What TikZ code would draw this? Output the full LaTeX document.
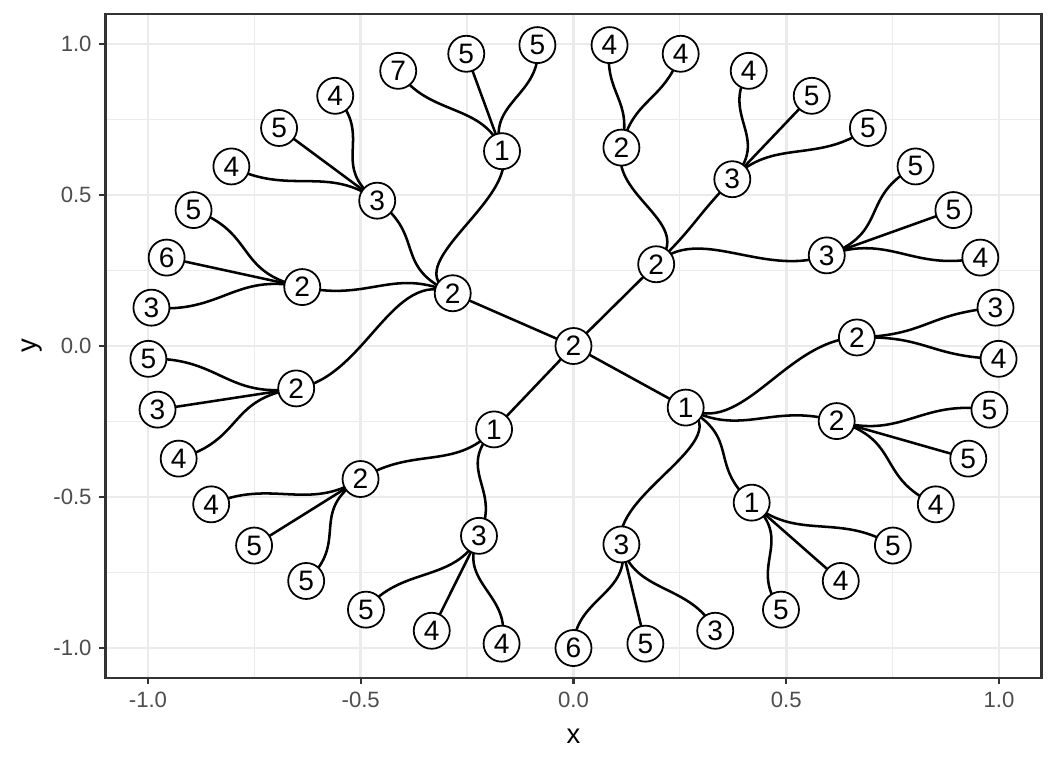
\documentclass[tikz,border=0pt]{standalone}
\usepackage{fontspec}
\setmainfont{Liberation Sans}
\usepackage{tikz}
\pgfdeclarelayer{grid}
\pgfdeclarelayer{edges}
\pgfsetlayers{grid,edges,main}
\definecolor{gridgray}{HTML}{EBEBEB}
\definecolor{framegray}{HTML}{333333}
\definecolor{ticktext}{HTML}{4D4D4D}

\begin{document}
\begin{tikzpicture}[x=4.255cm,y=3.02cm,
    vert/.style={circle,draw=black,fill=white,line width=0.5pt,minimum size=0.36cm,inner sep=0pt,font=\fontsize{8}{8}\selectfont},
    edge/.style={line width=0.72pt},
    ticklab/.style={text=ticktext,inner sep=0pt,font=\fontsize{6.3}{6.3}\selectfont}]
    \def\dang{9.72973} % angle between two leaves, 360/37
    \useasboundingbox (-1.3478,-1.3974) rectangle (1.1340,1.1457);

    % Background and grid
    \begin{pgfonlayer}{grid}
    \fill[white] (-1.3478,-1.3974) rectangle (1.1340,1.1457);
    \foreach \v in {-0.75,-0.25,0.25,0.75}{
    \draw[gridgray,line width=0.36pt] (\v,-1.1) -- (\v,1.1);
    \draw[gridgray,line width=0.36pt] (-1.1,\v) -- (1.1,\v);
    }
    \foreach \v in {-1,-0.5,0,0.5,1}{
    \draw[gridgray,line width=0.72pt] (\v,-1.1) -- (\v,1.1);
    \draw[gridgray,line width=0.72pt] (-1.1,\v) -- (1.1,\v);
    }
    \end{pgfonlayer}

    % Root and first ring (r = 1/3)
    \node[vert] (root) at (0,0) {2};
    \foreach \n/\k/\lab in {a/24.5/2,b/14.833/2,c/5.375/1,d/33.5/1}{
    \node[vert] (\n) at ({-90+\k*\dang}:{1/3}) {\lab};
    \begin{pgfonlayer}{edges}
    \draw[edge] (root.center) -- (\n.center);
    \end{pgfonlayer}
    }

    % Second ring (r = 2/3)
    \foreach \n/\k/\p/\pk/\lab in {c1/1/c/5.375/3,c2/4/c/5.375/1,c3/7/c/5.375/2,c4/9.5/c/5.375/2,
        b1/12/b/14.833/3,b2/15/b/14.833/3,b3/17.5/b/14.833/2,
        a1/20/a/24.5/1,a2/23/a/24.5/3,a3/26/a/24.5/2,a4/29/a/24.5/2,
        d1/32/d/33.5/2,d2/35/d/33.5/3}{
    \node[vert] (\n) at ({-90+\k*\dang}:{2/3}) {\lab};
    \begin{pgfonlayer}{edges}
    \draw[edge] (\p.center) .. controls ({-90+\pk*\dang}:0.5) and ({-90+\k*\dang}:0.5) .. (\n.center);
    \end{pgfonlayer}
    }

    % Leaves (r = 1)
    \foreach \k/\p/\pk/\lab in {0/c1/1/6,1/c1/1/5,2/c1/1/3,3/c2/4/5,4/c2/4/4,5/c2/4/5,
        6/c3/7/4,7/c3/7/5,8/c3/7/5,9/c4/9.5/4,10/c4/9.5/3,
        11/b1/12/4,12/b1/12/5,13/b1/12/5,14/b2/15/5,15/b2/15/5,16/b2/15/4,17/b3/17.5/4,18/b3/17.5/4,
        19/a1/20/5,20/a1/20/5,21/a1/20/7,22/a2/23/4,23/a2/23/5,24/a2/23/4,
        25/a3/26/5,26/a3/26/6,27/a3/26/3,28/a4/29/5,29/a4/29/3,30/a4/29/4,
        31/d1/32/4,32/d1/32/5,33/d1/32/5,34/d2/35/5,35/d2/35/4,36/d2/35/4}{
    \node[vert] (l\k) at ({-90+\k*\dang}:1) {\lab};
    \begin{pgfonlayer}{edges}
    \draw[edge] (\p.center) .. controls ({-90+\pk*\dang}:{5/6}) and ({-90+\k*\dang}:{5/6}) .. (l\k.center);
    \end{pgfonlayer}
    }

    % Frame, ticks and labels
    \draw[framegray,line width=0.68pt] (-1.1,-1.1) rectangle (1.1,1.1);
    \foreach \v/\t [count=\i] in {-1/-1.0,-0.5/-0.5,0/0.0,0.5/0.5,1/1.0}{
    \draw[framegray,line width=0.68pt] (\v,-1.1) -- (\v,-1.1205);
    \draw[framegray,line width=0.68pt] (-1.1,\v) -- (-1.1146,\v);
    \node[ticklab] (xt\i) at (\v,-1.172) {\t};
    \node[ticklab,anchor=east] (yt\i) at (-1.131,\v) {\t};
    }
    \node[font=\fontsize{7.8}{7.8}\selectfont,inner sep=0pt] (xlab) at (0,-1.291) {x};
    \node[font=\fontsize{7.8}{7.8}\selectfont,inner sep=0pt,rotate=90] (ylab) at (-1.2714,0) {y};
\end{tikzpicture}
\end{document}
